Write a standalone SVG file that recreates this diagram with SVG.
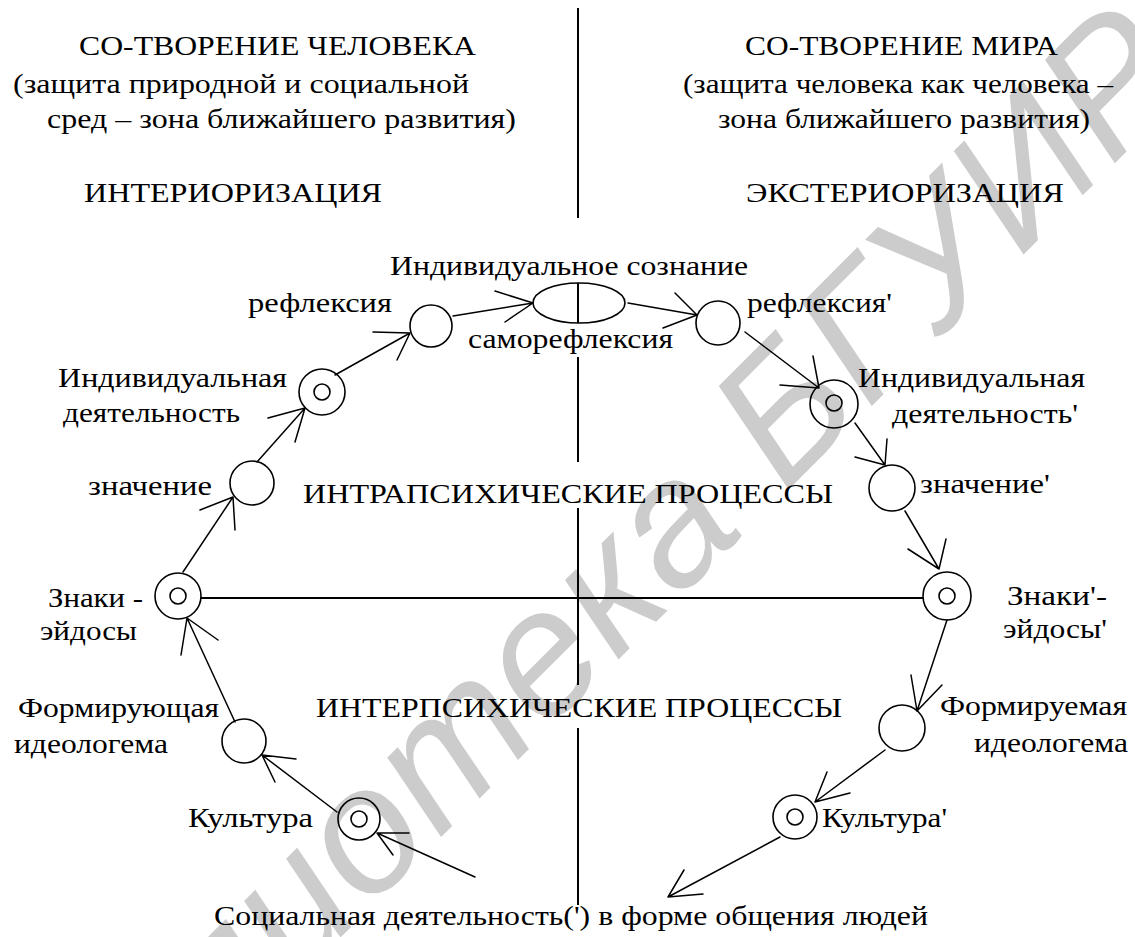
<svg xmlns="http://www.w3.org/2000/svg" width="1135" height="937" viewBox="0 0 1135 937">
<style>
.t text{font-size:27px;fill:#000}
.wm{font-style:italic;font-size:178px;fill:#cccccc}
.nd{fill:none;stroke:#000;stroke-width:1.6}
.ln{fill:none;stroke:#000;stroke-width:2}
.ar{fill:none;stroke:#000;stroke-width:1.5;stroke-linecap:round;stroke-linejoin:round}
</style>
<rect width="1135" height="937" fill="#fff"/>
<text class="wm" font-family="Liberation Sans, Arial, sans-serif" transform="translate(0,1278) rotate(-45)" textLength="1690" lengthAdjust="spacing">Библиотека БГУИР</text>

<g class="t" font-family="Liberation Serif, Times New Roman, DejaVu Serif, serif">
<g id="headings">
<text x="79" y="55" textLength="397" lengthAdjust="spacingAndGlyphs">СО-ТВОРЕНИЕ ЧЕЛОВЕКА</text>
<text x="13" y="93" textLength="456" lengthAdjust="spacingAndGlyphs">(защита природной и социальной</text>
<text x="47" y="128" textLength="469" lengthAdjust="spacingAndGlyphs">сред – зона ближайшего развития)</text>
<text x="84" y="202" textLength="298" lengthAdjust="spacingAndGlyphs">ИНТЕРИОРИЗАЦИЯ</text>
<text x="745" y="55" textLength="313" lengthAdjust="spacingAndGlyphs">СО-ТВОРЕНИЕ МИРА</text>
<text x="683" y="93" textLength="430" lengthAdjust="spacingAndGlyphs">(защита человека как человека –</text>
<text x="718" y="128" textLength="372" lengthAdjust="spacingAndGlyphs">зона ближайшего развития)</text>
<text x="746" y="202" textLength="318" lengthAdjust="spacingAndGlyphs">ЭКСТЕРИОРИЗАЦИЯ</text>
<text x="303" y="503" textLength="530" lengthAdjust="spacingAndGlyphs">ИНТРАПСИХИЧЕСКИЕ ПРОЦЕССЫ</text>
<text x="316" y="717" textLength="526" lengthAdjust="spacingAndGlyphs">ИНТЕРПСИХИЧЕСКИЕ ПРОЦЕССЫ</text>
</g>

<g id="axes">
<line class="ln" x1="578" y1="8" x2="578" y2="218"/>
<line class="ln" x1="578" y1="357" x2="578" y2="462"/>
<line class="ln" x1="578" y1="508" x2="578" y2="685"/>
<line class="ln" x1="578" y1="728" x2="578" y2="905"/>
</g>

<g id="n-soznanie">
<ellipse class="nd" cx="579" cy="303" rx="46" ry="20"/>
<line class="ln" x1="578" y1="283" x2="578" y2="323"/>
<text x="390" y="275" textLength="358" lengthAdjust="spacingAndGlyphs">Индивидуальное сознание</text>
<text x="468" y="348" textLength="205" lengthAdjust="spacingAndGlyphs">саморефлексия</text>
</g>
<g id="n-refl-l">
<circle class="nd" cx="431" cy="326" r="21"/>
<text x="248" y="312" textLength="144" lengthAdjust="spacingAndGlyphs">рефлексия</text>
</g>
<g id="n-refl-r">
<circle class="nd" cx="718" cy="323" r="22"/>
<text x="747" y="312" textLength="145" lengthAdjust="spacingAndGlyphs">рефлексия'</text>
</g>
<g id="n-ind-l">
<circle class="nd" cx="322" cy="392" r="23"/>
<circle class="nd" cx="322" cy="392" r="8"/>
<text x="58" y="387" textLength="229" lengthAdjust="spacingAndGlyphs">Индивидуальная</text>
<text x="63" y="422" textLength="177" lengthAdjust="spacingAndGlyphs">деятельность</text>
</g>
<g id="n-ind-r">
<circle class="nd" cx="834" cy="404" r="24"/>
<circle class="nd" cx="834" cy="403" r="8"/>
<text x="858" y="387" textLength="227" lengthAdjust="spacingAndGlyphs">Индивидуальная</text>
<text x="892" y="423" textLength="186" lengthAdjust="spacingAndGlyphs">деятельность'</text>
</g>
<g id="n-znach-l">
<circle class="nd" cx="252" cy="483" r="22"/>
<text x="88" y="495" textLength="124" lengthAdjust="spacingAndGlyphs">значение</text>
</g>
<g id="n-znach-r">
<circle class="nd" cx="892" cy="488" r="23"/>
<text x="920" y="493" textLength="130" lengthAdjust="spacingAndGlyphs">значение'</text>
</g>
<g id="n-znaki-l">
<circle class="nd" cx="178" cy="596" r="23"/>
<circle class="nd" cx="178" cy="596" r="8"/>
<text x="48" y="607" textLength="95" lengthAdjust="spacingAndGlyphs">Знаки -</text>
<text x="40" y="640" textLength="97" lengthAdjust="spacingAndGlyphs">эйдосы</text>
</g>
<g id="n-znaki-r">
<circle class="nd" cx="947" cy="596" r="24"/>
<circle class="nd" cx="947" cy="596" r="8"/>
<text x="1007" y="605" textLength="100" lengthAdjust="spacingAndGlyphs">Знаки'-</text>
<text x="1003" y="638" textLength="104" lengthAdjust="spacingAndGlyphs">эйдосы'</text>
</g>
<g id="n-form-l">
<circle class="nd" cx="244" cy="741" r="22"/>
<text x="18" y="717" textLength="201" lengthAdjust="spacingAndGlyphs">Формирующая</text>
<text x="14" y="753" textLength="154" lengthAdjust="spacingAndGlyphs">идеологема</text>
</g>
<g id="n-form-r">
<circle class="nd" cx="902" cy="728" r="23"/>
<text x="940" y="715" textLength="187" lengthAdjust="spacingAndGlyphs">Формируемая</text>
<text x="974" y="752" textLength="154" lengthAdjust="spacingAndGlyphs">идеологема</text>
</g>
<g id="n-kult-l">
<circle class="nd" cx="359" cy="819" r="21"/>
<circle class="nd" cx="359" cy="819" r="8"/>
<text x="188" y="827" textLength="125" lengthAdjust="spacingAndGlyphs">Культура</text>
</g>
<g id="n-kult-r">
<circle class="nd" cx="795" cy="817" r="22"/>
<circle class="nd" cx="795" cy="817" r="8"/>
<text x="822" y="827" textLength="125" lengthAdjust="spacingAndGlyphs">Культура'</text>
</g>
<g id="n-social">
<text x="214" y="925" textLength="714" lengthAdjust="spacingAndGlyphs">Социальная деятельность(') в форме общения людей</text>
</g>
</g>

<g id="connectors">
<line class="ln" x1="200" y1="598" x2="924" y2="598"/>
<path class="ar" d="M475,877 L377,833 M409,833 L377,833 L393,855"/>
<path class="ar" d="M337,812 L262,755 M296,759 L262,755 L275,782"/>
<path class="ar" d="M235,722 L187,618 M181,655 L187,618 L218,640"/>
<path class="ar" d="M183,572 L233,497 M200,510 L233,497 L235,530"/>
<path class="ar" d="M257,462 L305,408 M268,418 L305,408 L295,442"/>
<path class="ar" d="M335,375 L410,333 M373,332 L410,333 L397,360"/>
<path class="ar" d="M453,316 L533,303 M495,291 L533,303 L505,322"/>
<path class="ar" d="M628,303 L697,315 M675,293 L697,315 L663,328"/>
<path class="ar" d="M745,332 L819,388 M813,356 L819,388 L780,385"/>
<path class="ar" d="M855,423 L885,465 M887,439 L885,465 L855,457"/>
<path class="ar" d="M905,511 L939,569 M908,549 L939,569 L946,539"/>
<path class="ar" d="M947,620 L917,711 M911,675 L917,711 L942,685"/>
<path class="ar" d="M885,750 L815,802 M827,772 L815,802 L850,793"/>
<path class="ar" d="M780,837 L668,897 M684,870 L668,897 L703,894"/>
</g>
</svg>
